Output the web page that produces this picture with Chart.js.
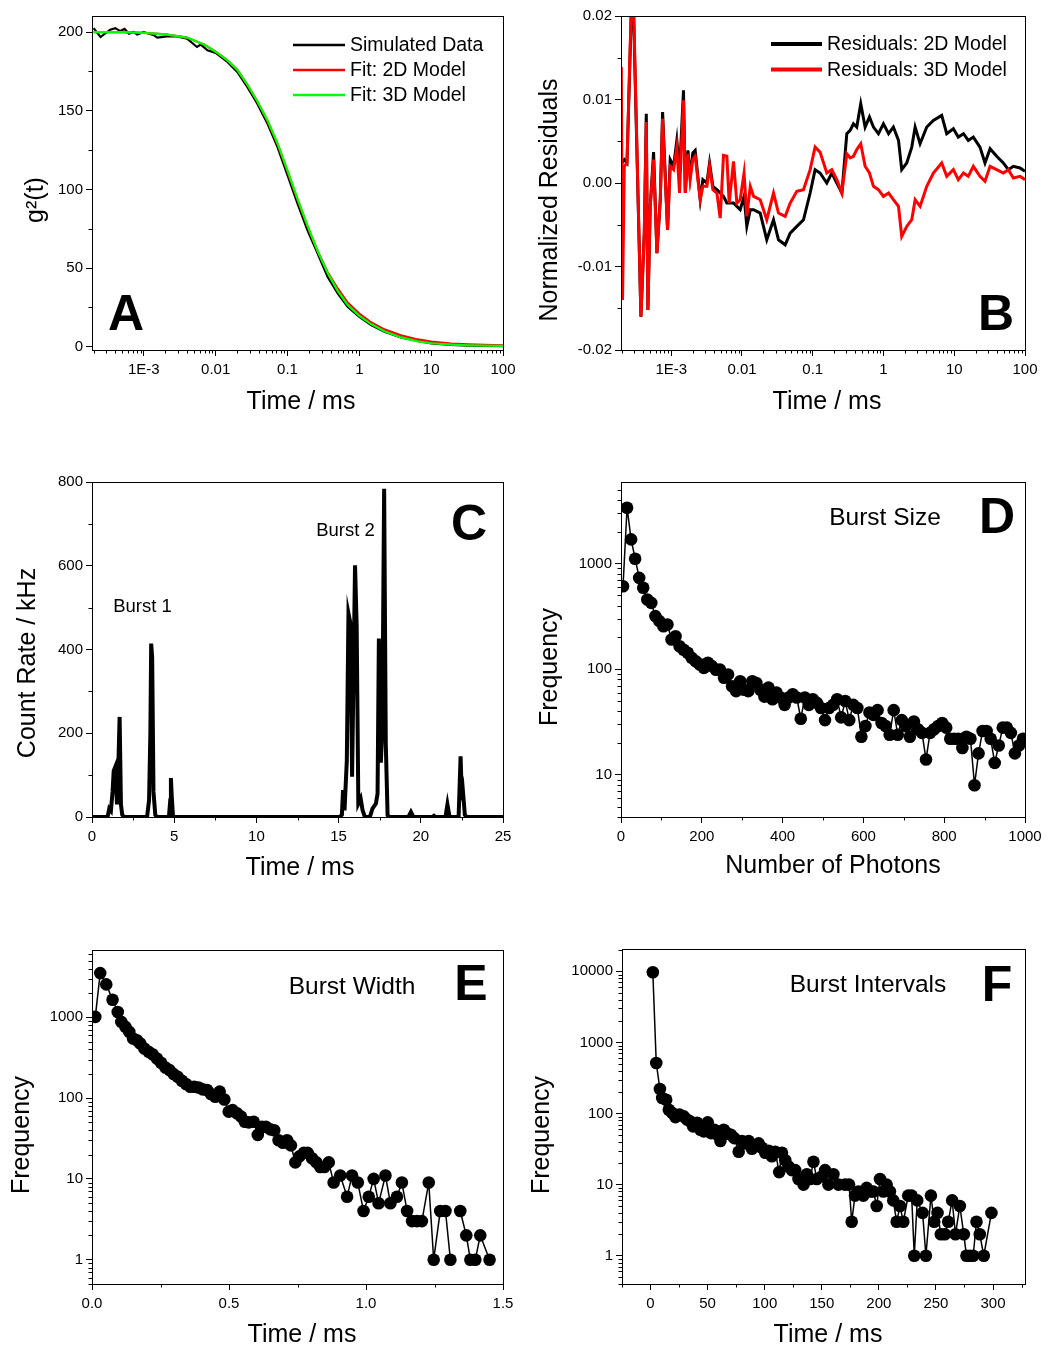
<!DOCTYPE html>
<html>
<head>
<meta charset="utf-8">
<script src="https://cdn.jsdelivr.net/npm/chart.js@4.4.1/dist/chart.umd.min.js"></script>
<style>
html, body { margin: 0; padding: 0; background: #fff; }
#page { position: relative; width: 1052px; height: 1349px; }
#page canvas { position: absolute; }
</style>
</head>
<body>
<div id="page"></div>
<script>
// A: correlation curve
const aTime = [2.0e-4, 2.5e-4, 3.4e-4, 4.0e-4, 4.7e-4, 5.4e-4, 6.2e-4, 7.2e-4, 8.1e-4, 1.0e-3, 1.38e-3, 1.54e-3, 2.1e-3, 2.9e-3, 4.0e-3, 5.5e-3, 6.2e-3, 7.7e-3, 0.01, 0.0146, 0.02, 0.0277, 0.038, 0.0526, 0.0724, 0.1, 0.138, 0.19, 0.262, 0.361, 0.5, 0.687, 1, 1.455, 2.23, 3.8, 6.5, 10, 19, 32.5, 55.5, 100];
const aSim = [202.5, 196.8, 201.5, 202.5, 200.6, 202, 199, 200, 198.5, 200, 198, 196.4, 197.2, 197.2, 195.8, 190.5, 192, 188.4, 186.7, 181, 174.6, 165, 154.5, 141.8, 127, 109, 91, 74, 59.3, 44.4, 33.9, 25.4, 19, 13.8, 9.5, 5.9, 3.6, 2.1, 1.1, 0.7, 0.5, 0.4];
const aFitTime = [2.0e-4, 5e-4, 1e-3, 2e-3, 4e-3, 7e-3, 0.01, 0.0146, 0.02, 0.0277, 0.038, 0.0526, 0.0724, 0.1, 0.138, 0.19, 0.262, 0.361, 0.5, 0.687, 1, 1.455, 2.23, 3.8, 6.5, 10, 19, 32.5, 55.5, 100];
const aFit2D = [200, 200, 199.5, 198.5, 196.5, 192, 187.5, 182, 176, 166.5, 156, 143.5, 129, 111.5, 93.5, 76.5, 61, 47.5, 37, 28, 21, 15.5, 11, 7.3, 4.6, 3.2, 2, 1.5, 1.1, 0.8];
const aFit3D = [200, 200, 199.5, 198.5, 196.5, 192, 187.5, 182, 176, 166.5, 156, 144, 129.5, 112, 94, 77, 61, 47, 35.5, 26.5, 19.6, 14.4, 9.8, 5.9, 3.4, 2.2, 1.3, 0.9, 0.7, 0.5];

// B: residuals
const bTime = [1.97e-4, 2.05e-4, 2.17e-4, 2.37e-4, 2.72e-4, 2.94e-4, 3.73e-4, 4.16e-4, 4.44e-4, 4.68e-4,
  5.05e-4, 5.63e-4, 6.28e-4, 7.0e-4, 7.55e-4, 8.87e-4, 9.68e-4, 1.08e-3, 1.2e-3, 1.31e-3,
  1.49e-3, 1.58e-3, 1.72e-3, 1.85e-3, 2.02e-3, 2.18e-3, 2.57e-3, 2.8e-3, 3.19e-3, 3.48e-3,
  3.88e-3, 4.42e-3, 4.92e-3, 5.48e-3, 6.11e-3, 6.59e-3, 7.59e-3, 8.47e-3, 9.43e-3, 0.0107,
  0.0117, 0.0131, 0.0146, 0.0181, 0.0224, 0.0279, 0.0328, 0.0408, 0.048, 0.0596,
  0.074, 0.0919, 0.108, 0.127, 0.158, 0.186, 0.219, 0.258, 0.303, 0.338,
  0.376, 0.419, 0.477, 0.55, 0.633, 0.721, 0.848, 0.998, 1.18, 1.38,
  1.63, 1.81, 2.13, 2.51, 2.8, 3.29, 4.09, 5.07, 6.65, 7.83,
  9.72, 11.4, 13.5, 15.8, 18.6, 23.1, 27.2, 32.1, 39.8, 49.4,
  58.2, 68.4, 85, 100];
const bRes2D = [2.2e-3, 2.5e-3, 2.8e-3, 2.4e-3, 20e-3, 20e-3, -16e-3, -6e-3, 8.3e-3, -15.2e-3,
  -2.8e-3, 3.7e-3, -8.4e-3, -2e-3, 8.5e-3, -5.6e-3, 2.8e-3, 2.0e-3, 5.1e-3, 1.2e-3,
  11.1e-3, -1.2e-3, 3.9e-3, 0.8e-3, 3.6e-3, 3.9e-3, -2e-3, 0.4e-3, 0, 2.4e-3,
  -0.4e-3, -0.8e-3, -1.2e-3, -1.6e-3, -2.4e-3, -2.4e-3, -2.4e-3, -2.8e-3, -3.2e-3, -1.6e-3,
  -5.2e-3, -3.2e-3, -3.2e-3, -3.6e-3, -6.8e-3, -4.4e-3, -6.8e-3, -7.4e-3, -6.0e-3, -5.2e-3,
  -4.4e-3, -1.2e-3, 1.6e-3, 1.2e-3, 0, 1.2e-3, 0, -1.2e-3, 5.9e-3, 6.3e-3,
  7.1e-3, 6.7e-3, 9.5e-3, 6.7e-3, 7.9e-3, 6.7e-3, 5.9e-3, 7.1e-3, 5.9e-3, 6.7e-3,
  5.1e-3, 1.6e-3, 2.4e-3, 4.3e-3, 6.7e-3, 4.7e-3, 6.7e-3, 7.5e-3, 8.1e-3, 5.9e-3,
  6.5e-3, 5.5e-3, 5.9e-3, 5.1e-3, 5.5e-3, 4.3e-3, 2.4e-3, 4.1e-3, 3.2e-3, 2.4e-3,
  1.6e-3, 2.0e-3, 1.8e-3, 1.4e-3];
const bRes3D = [13.9e-3, -14e-3, 2.0e-3, 2.4e-3, 21e-3, 21e-3, -16e-3, -6e-3, 7.3e-3, -15.2e-3,
  -2.8e-3, 2.8e-3, -8.4e-3, -2e-3, 7.7e-3, -5.6e-3, 2e-3, 1.6e-3, 4.3e-3, -1.2e-3,
  9.9e-3, -1.2e-3, 3.5e-3, 0.4e-3, 2.8e-3, 3.2e-3, -2e-3, -0.4e-3, -0.4e-3, 2.0e-3,
  -0.8e-3, -1.2e-3, -4.2e-3, 3.3e-3, 3.2e-3, -2.4e-3, 2.6e-3, -2.4e-3, -2.0e-3, 1.2e-3,
  -4.0e-3, -0.4e-3, -1.6e-3, -2.0e-3, -4.4e-3, -1.2e-3, -3.6e-3, -4.0e-3, -2.4e-3, -1.0e-3,
  -0.8e-3, 1.6e-3, 4.3e-3, 3.7e-3, 1.2e-3, 1.6e-3, 0.4e-3, -1.2e-3, 3.5e-3, 3.0e-3,
  3.2e-3, 4.0e-3, 4.7e-3, 2.0e-3, 1.2e-3, -0.4e-3, -0.8e-3, -1.6e-3, -1.2e-3, -2.0e-3,
  -2.8e-3, -6.4e-3, -5.2e-3, -4.4e-3, -2.0e-3, -2.8e-3, -0.4e-3, 1.2e-3, 2.4e-3, 0.8e-3,
  1.6e-3, 0.4e-3, 1.2e-3, 0.8e-3, 2.0e-3, 0.8e-3, 0.2e-3, 2.0e-3, 1.6e-3, 1.2e-3,
  1.6e-3, 0.6e-3, 0.8e-3, 0.4e-3];

// C: count-rate trace
const cTime = [0, 0.95, 1.05, 1.15, 1.25, 1.32, 1.42, 1.52, 1.6, 1.68, 1.76, 1.84, 1.95,
  3.35, 3.47, 3.55, 3.6, 3.66, 3.74, 3.85, 3.95,
  4.68, 4.76, 4.8, 4.85, 4.93,
  15.05, 15.2, 15.27, 15.36, 15.5, 15.6, 15.72, 15.82, 15.92, 16.0, 16.1, 16.2, 16.34, 16.46, 16.6,
  16.9, 17.06, 17.27, 17.37, 17.45, 17.57, 17.66, 17.77, 17.87, 17.98, 18.1,
  19.25, 19.4, 19.55, 20.7, 20.8, 20.9, 21.5, 21.62, 21.75,
  22.3, 22.42, 22.5, 22.57, 22.68, 22.8, 25];
const cRate = [0, 0, 20, 15, 60, 110, 120, 30, 120, 239, 30, 5, 0,
  0, 40, 200, 414, 380, 60, 5, 0,
  0, 40, 93, 50, 0,
  0, 5, 64, 16, 135, 486, 462, 96, 374, 601, 454, 32, 44, 16, 0,
  0, 20, 32, 56, 426, 130, 215, 784, 175, 4, 0,
  0, 12, 0, 0, 3, 0, 0, 30, 0,
  0, 145, 40, 58, 5, 0, 0];

// D: burst size histogram
const dPhotons = [5, 15, 25, 35, 45, 55, 65, 75, 85, 95, 105, 115, 125, 135, 145, 155, 165, 175, 185, 195,
  205, 215, 225, 235, 245, 255, 265, 275, 285, 295, 305, 315, 325, 335, 345, 355, 365, 375, 385, 395,
  405, 415, 425, 435, 445, 455, 465, 475, 485, 495, 505, 515, 525, 535, 545, 555, 565, 575, 585, 595,
  605, 615, 625, 635, 645, 655, 665, 675, 685, 695, 705, 715, 725, 735, 745, 755, 765, 775, 785, 795,
  805, 815, 825, 835, 845, 855, 865, 875, 885, 895, 905, 915, 925, 935, 945, 955, 965, 975, 985, 995];
const dFreq = [610, 3370, 1690, 1110, 731, 589, 456, 424, 318, 285, 255, 265, 191, 205, 165, 153, 143, 128, 119, 111,
  103, 115, 107, 99, 99, 83, 89, 69, 62, 77, 64, 62, 77, 74, 64, 55, 67, 52, 60, 54,
  46, 54, 58, 54, 34, 54, 46, 52, 48, 43, 33, 43, 46, 52, 35, 50, 33, 46, 43, 23,
  29, 39, 37, 41, 31, 29, 24, 41, 24, 33, 29, 23, 32, 27, 25, 14, 25, 27, 29, 31,
  28, 22, 22, 22, 18, 23, 22, 8, 16, 26, 26, 22, 13, 19, 28, 28, 25, 16, 19, 22];

// E: burst width histogram
const eWidth = [0.012, 0.030, 0.052, 0.075, 0.094, 0.107, 0.122, 0.136, 0.150, 0.164, 0.176, 0.191, 0.207, 0.221, 0.237,
  0.252, 0.268, 0.283, 0.298, 0.313, 0.328, 0.343, 0.359, 0.373, 0.389, 0.404, 0.420, 0.434, 0.450, 0.466,
  0.483, 0.499, 0.513, 0.529, 0.544, 0.558, 0.572, 0.590, 0.605, 0.620, 0.635, 0.651, 0.665, 0.681, 0.697,
  0.712, 0.726, 0.742, 0.757, 0.773, 0.787, 0.803, 0.819, 0.833, 0.848, 0.864, 0.882, 0.906, 0.931, 0.949,
  0.970, 0.991, 1.010, 1.028, 1.046, 1.071, 1.089, 1.113, 1.131, 1.150, 1.168, 1.186, 1.204, 1.229, 1.247,
  1.271, 1.290, 1.308, 1.326, 1.344, 1.366, 1.381, 1.399, 1.417, 1.451];
const eFreq = [1010, 3520, 2550, 1650, 1160, 876, 760, 659, 545, 520, 473, 411, 373, 349, 309,
  273, 239, 222, 198, 183, 164, 149, 138, 138, 135, 128, 126, 112, 104, 120,
  96, 68, 71, 65, 59, 51, 50, 51, 35, 44, 44, 41, 40, 30, 28,
  30, 26, 16, 19, 21, 21, 18, 16, 14, 14, 16, 9, 11, 6, 11,
  9, 4, 6, 10, 5, 11, 5, 6, 9, 4, 3, 3, 3, 9, 1,
  4, 4, 1, null, 4, 2, 1, 1, 2, 1];

// F: burst interval histogram
const fTime = [2.0, 5.0, 8.2, 10.2, 13.7, 16.0, 18.9, 21.8, 25.3, 29.1, 32.0, 35.0, 37.3, 40.8, 43.7, 46.6, 50.1, 53.0, 55.9, 58.8,
  61.2, 64.1, 67.0, 70.5, 73.4, 77.2, 80.1, 83.0, 85.9, 88.8, 91.8, 94.7, 97.6, 100.5, 103.4, 106.3, 109.2, 112.7, 115.1, 118.0,
  120.9, 123.8, 126.7, 129.6, 134.0, 136.9, 139.8, 142.7, 145.6, 150.0, 152.9, 155.8, 160.2, 164.6, 170.4, 173.9, 176.2, 179.1, 182.1, 186.4,
  189.3, 192.3, 195.2, 198.1, 201.0, 203.9, 206.8, 209.7, 212.6, 215.6, 218.5, 221.4, 225.7, 228.7, 231.0, 233.6, 238.3, 241.2, 245.6, 248.5,
  251.4, 254.3, 257.8, 260.7, 264.2, 267.1, 270.9, 274.4, 276.7, 279.6, 282.6, 285.5, 288.4, 291.9, 298.6];
const fFreq = [9680, 513, 221, 165, 156, 113, 102, 89, 97, 91, 82, 77, 66, 74, 59, 56, 75, 53, 59, 50,
  41, 59, 53, 50, 45, 29, 41, 38, 41, 32, 35, 38, 33, 28, 30, 25, 29, 15, 28, 22,
  18, 16, 16, 12, 10, 14, 12, 21, 12, 13, 16, 10, 14, 10, 10, 10, 3, 7, 8, 7,
  9, 8, 8, 5, 12, 8, 10, 8, 6, 3, 5, 3, 7, 7, 1, 6, 4, 1, 7, 3,
  4, 2, 2, 3, 6, 2, 5, 2, 1, 1, 1, 3, 2, 1, 4];

// tick values and labels
const logTimeTicks = [1e-3, 0.01, 0.1, 1, 10, 100];
const logTimeLabels = ['1E-3', '0.01', '0.1', '1', '10', '100'];
const aYTicks = [0, 50, 100, 150, 200];
const bYTicks = [-0.02, -0.01, 0, 0.01, 0.02];
const bYLabels = ['-0.02', '-0.01', '0.00', '0.01', '0.02'];
const cXTicks = [0, 5, 10, 15, 20, 25];
const cYTicks = [0, 200, 400, 600, 800];
const dXTicks = [0, 200, 400, 600, 800, 1000];
const dYTicks = [10, 100, 1000];
const eXTicks = [0, 0.5, 1.0, 1.5];
const eXLabels = ['0.0', '0.5', '1.0', '1.5'];
const eYTicks = [1, 10, 100, 1000];
const fXTicks = [0, 50, 100, 150, 200, 250, 300];
const fYTicks = [1, 10, 100, 1000, 10000];

const FONT = 'Arial, "Liberation Sans", Helvetica, sans-serif';
const TITLE = '25px ' + FONT;
const LETTER = 'bold 50px ' + FONT;
const NOTE = '24.5px ' + FONT;

function pts(xs, ys) {
    return xs.map((x, i) => ({ x: x, y: ys[i] }));
}

function logMinor(min, max) {
    const out = [];
    for (let d = Math.floor(Math.log10(min)); d <= Math.ceil(Math.log10(max)); d++) {
        for (let k = 2; k <= 9; k++) out.push(k * Math.pow(10, d));
    }
    return out;
}

function midMinor(ticks) {
    const step = ticks[1] - ticks[0];
    const out = [];
    for (let i = -1; i < ticks.length; i++) out.push(ticks[0] + (i + 0.5) * step);
    return out;
}

// the axis box is given a fixed size so the plot area lands exactly where the reference has it
function axis(ax, isX, size) {
    return {
        type: ax.type || 'linear',
        min: ax.min,
        max: ax.max,
        afterFit: s => { if (isX) s.height = size; else s.width = size; },
        afterBuildTicks: s => { s.ticks = ax.ticks.map(v => ({ value: v })); },
        ticks: {
            autoSkip: false, maxRotation: 0, minRotation: 0,
            padding: isX ? 5 : 3,
            color: '#000',
            font: { family: FONT, size: 15 },
            callback: (v, i) => ax.labels ? ax.labels[i] : String(ax.ticks[i])
        },
        grid: { drawOnChartArea: false, drawTicks: true, tickLength: 6, color: '#000', tickColor: '#000', lineWidth: 1 },
        border: { display: true, color: '#000', width: 1 }
    };
}

function decorPlugin(p) {
    const ox = p.box[0], oy = p.box[1];
    return {
        id: 'decor',
        afterDraw(chart) {
            const ctx = chart.ctx, a = chart.chartArea;
            const xs = chart.scales.x, ys = chart.scales.y;
            ctx.save();
            ctx.strokeStyle = '#000';
            ctx.lineWidth = 1;
            ctx.strokeRect(Math.round(a.left) + 0.5, Math.round(a.top) + 0.5,
                Math.round(a.right - a.left), Math.round(a.bottom - a.top));
            ctx.beginPath();
            (p.xMinor || []).filter(v => v >= xs.min && v <= xs.max).forEach(v => {
                const px = Math.round(xs.getPixelForValue(v)) + 0.5;
                ctx.moveTo(px, a.bottom);
                ctx.lineTo(px, a.bottom + 3.5);
            });
            (p.yMinor || []).filter(v => v >= ys.min && v <= ys.max).forEach(v => {
                const py = Math.round(ys.getPixelForValue(v)) + 0.5;
                ctx.moveTo(a.left, py);
                ctx.lineTo(a.left - 3.5, py);
            });
            ctx.stroke();

            if (p.legend) {
                const L = p.legend;
                chart.data.datasets.forEach((ds, i) => {
                    const y = L.y0 + L.dy * i - oy;
                    ctx.strokeStyle = ds.borderColor;
                    ctx.lineWidth = L.lineWidth;
                    ctx.beginPath();
                    ctx.moveTo(L.x1 - ox, y);
                    ctx.lineTo(L.x2 - ox, y);
                    ctx.stroke();
                    ctx.fillStyle = '#000';
                    ctx.font = L.font;
                    ctx.textAlign = 'left';
                    ctx.textBaseline = 'middle';
                    ctx.fillText(ds.label, L.tx - ox, y + 1);
                });
            }

            (p.texts || []).forEach(t => {
                ctx.save();
                ctx.translate(t.x - ox, t.y - oy);
                if (t.rot) ctx.rotate(-Math.PI / 2);
                ctx.font = t.font;
                ctx.fillStyle = '#000';
                ctx.textAlign = 'center';
                ctx.textBaseline = 'middle';
                ctx.fillText(t.text, 0, 0);
                ctx.restore();
            });
            ctx.restore();
        }
    };
}

function makePanel(p) {
    const [bx, by, bw, bh] = p.box;
    const canvas = document.createElement('canvas');
    canvas.width = bw;
    canvas.height = bh;
    canvas.style.left = bx + 'px';
    canvas.style.top = by + 'px';
    canvas.style.width = bw + 'px';
    canvas.style.height = bh + 'px';
    document.getElementById('page').appendChild(canvas);
    return new Chart(canvas.getContext('2d'), {
        type: 'line',
        data: { datasets: p.datasets },
        options: {
            responsive: false,
            animation: false,
            devicePixelRatio: 1,
            layout: { padding: { left: 0, top: p.rect.t - by, right: bx + bw - p.rect.r, bottom: 0 } },
            plugins: { legend: { display: false }, tooltip: { enabled: false } },
            elements: { line: { tension: 0 } },
            scales: {
                x: axis(p.x, true, by + bh - p.rect.b),
                y: axis(p.y, false, p.rect.l - bx)
            }
        },
        plugins: [decorPlugin(p)]
    });
}

function lineSet(label, data, color, width, order) {
    return { label, data, borderColor: color, backgroundColor: color, borderWidth: width, pointRadius: 0, order: order, fill: false };
}

function dotSet(label, data) {
    return {
        label, data, borderColor: '#000', backgroundColor: '#000', borderWidth: 1.5,
        pointRadius: 6.3, pointHoverRadius: 6.3, pointBackgroundColor: '#000', pointBorderWidth: 0,
        spanGaps: false, fill: false
    };
}

// A
makePanel({
    box: [0, 0, 526, 430],
    rect: { l: 92, t: 16, r: 503, b: 350 },
    x: { type: 'logarithmic', min: 1.9e-4, max: 100, ticks: logTimeTicks, labels: logTimeLabels },
    y: { min: -2.1, max: 210.2, ticks: aYTicks },
    xMinor: logMinor(1.9e-4, 100),
    yMinor: midMinor(aYTicks),
    datasets: [
        lineSet('Simulated Data', pts(aTime, aSim), '#000000', 2.2, 3),
        lineSet('Fit: 2D Model', pts(aFitTime, aFit2D), '#ff0000', 2.2, 2),
        lineSet('Fit: 3D Model', pts(aFitTime, aFit3D), '#00ff00', 2.2, 1)
    ],
    legend: { x1: 293, x2: 345, tx: 350, y0: 45, dy: 25, lineWidth: 2.5, font: '19.5px ' + FONT },
    texts: [
        { text: 'Time / ms', x: 301, y: 402, font: TITLE },
        { text: 'g²(t)', x: 36, y: 200, rot: true, font: TITLE },
        { text: 'A', x: 126, y: 316, font: LETTER }
    ]
});

// B
makePanel({
    box: [526, 0, 526, 430],
    rect: { l: 621, t: 16, r: 1025, b: 350 },
    x: { type: 'logarithmic', min: 1.95e-4, max: 100, ticks: logTimeTicks, labels: logTimeLabels },
    y: { min: -0.02, max: 0.02, ticks: bYTicks, labels: bYLabels },
    xMinor: logMinor(1.95e-4, 100),
    yMinor: midMinor(bYTicks),
    datasets: [
        lineSet('Residuals: 2D Model', pts(bTime, bRes2D), '#000000', 3, 2),
        lineSet('Residuals: 3D Model', pts(bTime, bRes3D), '#ff0000', 3, 1)
    ],
    legend: { x1: 771, x2: 822, tx: 827, y0: 44, dy: 25.5, lineWidth: 4, font: '19.5px ' + FONT },
    texts: [
        { text: 'Time / ms', x: 827, y: 402, font: TITLE },
        { text: 'Normalized Residuals', x: 550, y: 200, rot: true, font: TITLE },
        { text: 'B', x: 996, y: 316, font: LETTER }
    ]
});

// C
makePanel({
    box: [0, 430, 526, 470],
    rect: { l: 92, t: 482, r: 503, b: 817 },
    x: { min: 0, max: 25, ticks: cXTicks },
    y: { min: 0, max: 800, ticks: cYTicks },
    xMinor: midMinor(cXTicks),
    yMinor: midMinor(cYTicks),
    datasets: [lineSet('Count Rate', pts(cTime, cRate), '#000000', 4, 1)],
    texts: [
        { text: 'Time / ms', x: 300, y: 868, font: TITLE },
        { text: 'Count Rate / kHz', x: 28, y: 663, rot: true, font: TITLE },
        { text: 'C', x: 469, y: 526, font: LETTER },
        { text: 'Burst 1', x: 142.5, y: 607, font: '18.5px ' + FONT },
        { text: 'Burst 2', x: 345.5, y: 531, font: '18.5px ' + FONT }
    ]
});

// D
makePanel({
    box: [526, 430, 526, 470],
    rect: { l: 621, t: 482, r: 1025, b: 817 },
    x: { min: 0, max: 1000, ticks: dXTicks },
    y: { type: 'logarithmic', min: 4, max: 5900, ticks: dYTicks },
    xMinor: midMinor(dXTicks),
    yMinor: logMinor(4, 5900),
    datasets: [dotSet('Burst Size', pts(dPhotons, dFreq))],
    texts: [
        { text: 'Number of Photons', x: 833, y: 866, font: TITLE },
        { text: 'Frequency', x: 550, y: 667, rot: true, font: TITLE },
        { text: 'Burst Size', x: 885, y: 518, font: NOTE },
        { text: 'D', x: 997, y: 519, font: LETTER }
    ]
});

// E
makePanel({
    box: [0, 900, 526, 449],
    rect: { l: 92, t: 950, r: 503, b: 1284 },
    x: { min: 0, max: 1.5, ticks: eXTicks, labels: eXLabels },
    y: { type: 'logarithmic', min: 0.5, max: 6800, ticks: eYTicks },
    xMinor: midMinor(eXTicks),
    yMinor: logMinor(0.5, 6800),
    datasets: [dotSet('Burst Width', pts(eWidth, eFreq))],
    texts: [
        { text: 'Time / ms', x: 302, y: 1335, font: TITLE },
        { text: 'Frequency', x: 22, y: 1135, rot: true, font: TITLE },
        { text: 'Burst Width', x: 352, y: 987, font: NOTE },
        { text: 'E', x: 471, y: 986, font: LETTER }
    ]
});

// F
makePanel({
    box: [526, 900, 526, 449],
    rect: { l: 622, t: 949, r: 1025, b: 1284 },
    x: { min: -25, max: 328, ticks: fXTicks },
    y: { type: 'logarithmic', min: 0.4, max: 20600, ticks: fYTicks },
    xMinor: midMinor(fXTicks).concat([325]),
    yMinor: logMinor(0.4, 20600),
    datasets: [dotSet('Burst Intervals', pts(fTime, fFreq))],
    texts: [
        { text: 'Time / ms', x: 828, y: 1335, font: TITLE },
        { text: 'Frequency', x: 542, y: 1135, rot: true, font: TITLE },
        { text: 'Burst Intervals', x: 868, y: 985, font: NOTE },
        { text: 'F', x: 997, y: 987, font: LETTER }
    ]
});
</script>
</body>
</html>
